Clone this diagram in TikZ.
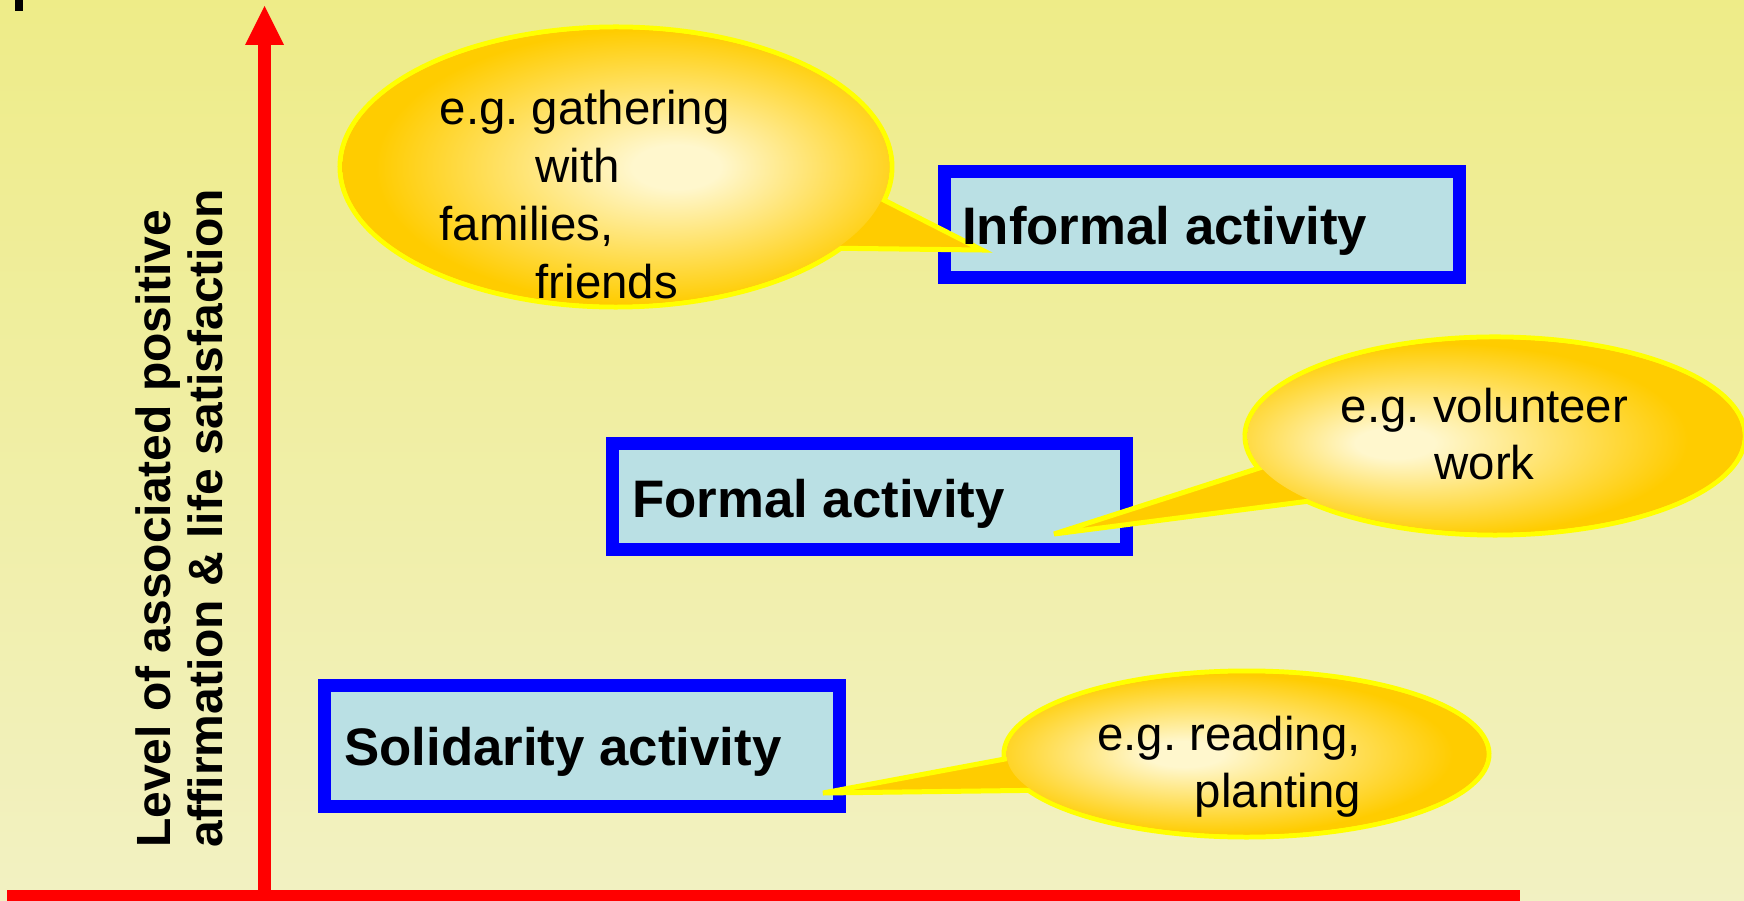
\documentclass[tikz,border=0pt]{standalone}
\usepackage{fontspec}
\setmainfont{Liberation Sans}
\usetikzlibrary{calc}
\frenchspacing
\definecolor{bgtop}{RGB}{238,236,136}
\definecolor{bgbot}{RGB}{242,241,194}
\definecolor{boxfill}{RGB}{186,224,228}
\definecolor{boxline}{RGB}{0,0,255}
\definecolor{axisred}{RGB}{255,0,0}
\definecolor{gold}{RGB}{255,204,0}
\definecolor{goldlight}{RGB}{255,247,205}
\definecolor{outl}{RGB}{255,255,0}
\pgfdeclareradialshading{calloutA}{\pgfpoint{6bp}{0bp}}{color(0bp)=(goldlight); color(4bp)=(goldlight); color(25bp)=(gold); color(50bp)=(gold)}
\pgfdeclareradialshading{calloutB}{\pgfpoint{-11bp}{-2bp}}{color(0bp)=(goldlight); color(4bp)=(goldlight); color(25bp)=(gold); color(50bp)=(gold)}
\pgfdeclareradialshading{calloutC}{\pgfpoint{-7bp}{0bp}}{color(0bp)=(goldlight); color(4bp)=(goldlight); color(25bp)=(gold); color(50bp)=(gold)}
\tikzset{
  actbox/.style={draw=boxline, fill=boxfill, line width=13pt, rectangle, inner sep=0pt, outer sep=0pt},
  acttext/.style={font=\bfseries\fontsize{52.8}{60}\selectfont, inner sep=0pt, text=black},
  calltext/.style={font=\fontsize{47.4}{57.7}\selectfont, inner sep=0pt, text=black},
  axislabel/.style={font=\bfseries\fontsize{48}{52}\selectfont, inner sep=0pt, text=black},
  callout/.style={draw=outl, fill=gold, line width=5pt, line join=miter},
}
\begin{document}
\begin{tikzpicture}[x=1pt,y=-1pt]
\useasboundingbox (0,0) rectangle (1744,901);
% background
\shade[top color=bgtop, bottom color=bgbot] (0,0) rectangle (1744,901);
% stray mark at top left
\fill[black] (15,0) rectangle (22.5,11);
% axes
\coordinate (ybot) at (264.5,896);
\coordinate (yhead) at (264.5,45);
\coordinate (ytip) at (264.5,6);
\fill[axisred] (258,45) rectangle (271,896);
\fill[axisred] (245,45) -- (ytip) -- (284,45) -- cycle;
\fill[axisred] (7,890) rectangle (1520,905);
% axis label
\node[axislabel, rotate=90, anchor=base west] (ylabel) at (170,848)
  {\begin{tabular}[t]{@{}l@{}}Level of associated positive\\affirmation \& life satisfaction\end{tabular}};
% boxes
\node[actbox, minimum width=515pt, minimum height=106pt, anchor=north west] (informal) at (944.5,171.5) {};
\node[actbox, minimum width=514pt, minimum height=106pt, anchor=north west] (formal) at (612.5,443.5) {};
\node[actbox, minimum width=515pt, minimum height=121pt, anchor=north west] (solidarity) at (324.5,685.5) {};
% callout 1
\draw[callout] (616,167) ++(35.5:276 and 140) arc[start angle=35.5, end angle=373.7, x radius=276, y radius=140] -- (982,250) -- cycle;
\shade[shading=calloutA] (616,167) ellipse[x radius=273.5, y radius=137.5];
% callout 2
\draw[callout] (1495,436) ++(161:250 and 99) arc[start angle=161, end angle=498.7, x radius=250, y radius=99] -- (1054,534) -- cycle;
\shade[shading=calloutB] (1495,436) ellipse[x radius=247.5, y radius=96.5];
% callout 3
\draw[callout] (1246.5,754) ++(176.5:242.5 and 83) arc[start angle=176.5, end angle=514, x radius=242.5, y radius=83] -- (823,793) -- cycle;
\shade[shading=calloutC] (1246.5,754) ellipse[x radius=240, y radius=80.5];
% callout texts
\node[calltext, anchor=base west] (gathering) at (439.5,125)
  {\begin{tabular}[t]{@{}l@{}}e.g. gathering\\\hspace*{96pt}with\\families,\\\hspace*{96pt}friends\end{tabular}};
\node[calltext, anchor=base] (volunteer) at (1484.5,422)
  {\begin{tabular}[t]{@{}c@{}}e.g. volunteer\\work\end{tabular}};
\node[calltext, anchor=base east] (reading) at (1361,750)
  {\begin{tabular}[t]{@{}r@{}}e.g. reading,\\planting\end{tabular}};
% box texts
\node[acttext, anchor=base west] (informaltext) at (962,244) {Informal activity};
\node[acttext, anchor=base west] (formaltext) at (632,517) {Formal activity};
\node[acttext, anchor=base west] (solidaritytext) at (344,765) {Solidarity activity};
\end{tikzpicture}
\end{document}
